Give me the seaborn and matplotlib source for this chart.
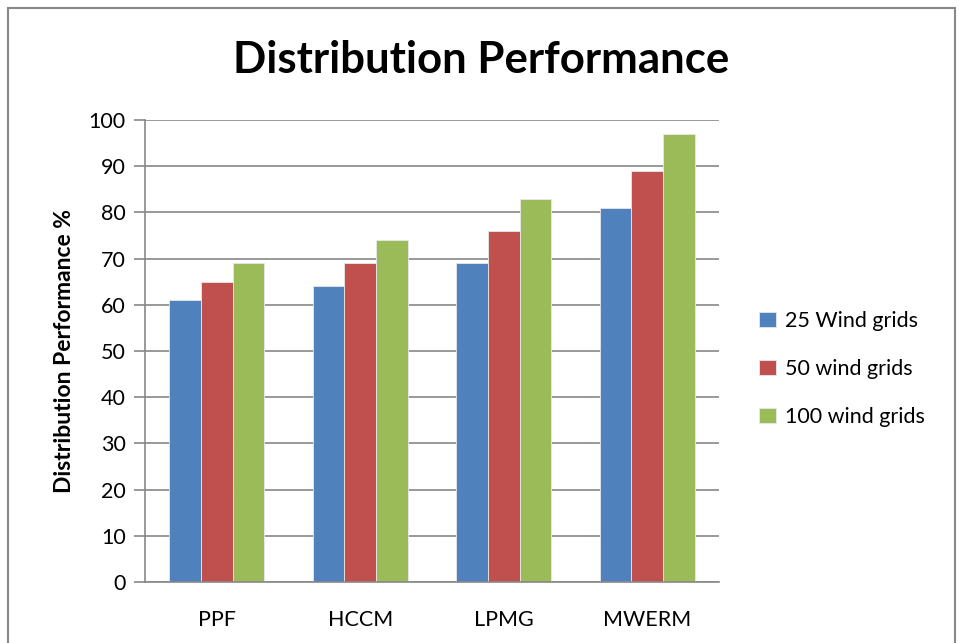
import matplotlib
matplotlib.use("Agg")
import matplotlib.pyplot as plt
import seaborn as sns
import pandas as pd
from matplotlib.patches import Rectangle

categories = ["PPF", "HCCM", "LPMG", "MWERM"]
series_names = ["25 Wind grids", "50 wind grids", "100 wind grids"]
s25 = [61, 64, 69, 81]
s50 = [65, 69, 76, 89]
s100 = [69, 74, 83, 97]
yticks = [0, 10, 20, 30, 40, 50, 60, 70, 80, 90, 100]
colors = ["#4F81BD", "#C0504D", "#9BBB59"]

rows = []
for name, vals in zip(series_names, [s25, s50, s100]):
    for c, v in zip(categories, vals):
        rows.append({"Method": c, "Series": name, "Value": v})
df = pd.DataFrame(rows)

sns.set_theme(style="white")
plt.rcParams["font.family"] = ["Lato", "DejaVu Sans"]
plt.rcParams["text.color"] = "black"
plt.rcParams["axes.labelcolor"] = "black"
plt.rcParams["xtick.color"] = "black"
plt.rcParams["ytick.color"] = "black"

fig = plt.figure(figsize=(9.62, 6.43), dpi=100)
ax = fig.add_axes([145/962, 1-582/643, (719-145)/962, (582-120)/643])

sns.barplot(data=df, x="Method", y="Value", hue="Series", palette=colors,
            order=categories, hue_order=series_names, width=0.66,
            saturation=1, ax=ax, legend=True, edgecolor="#e8e8e8", linewidth=0.6)

ax.set_ylim(0, 100)
ax.set_yticks(yticks)
ax.set_xlim(-0.5, len(categories) - 0.5)
ax.yaxis.grid(True, color="#888888", linewidth=1.2)
ax.set_axisbelow(True)
for s in ["top", "right"]:
    ax.spines[s].set_visible(False)
for s in ["left", "bottom"]:
    ax.spines[s].set_color("#888888")
    ax.spines[s].set_linewidth(1.2)

ax.set_xticks([x for x in range(len(categories))])
ax.set_xticklabels(categories, fontsize=15.5)
ax.set_xticks([-0.5, 0.5, 1.5, 2.5, 3.5], minor=True)
ax.tick_params(axis="x", which="major", length=0, pad=20, colors="black")
ax.tick_params(axis="x", which="minor", length=8, color="#888888", width=1.2, direction="out")
ax.tick_params(axis="y", length=8, color="#888888", labelcolor="black", width=1.2,
               direction="out", labelsize=15.5, pad=6)
ax.tick_params(axis="both", bottom=True, left=True)

ax.set_xlabel("")
ax.set_ylabel("Distribution Performance %", fontsize=16.5, fontweight="bold", labelpad=10)

leg = ax.legend(loc="center left", bbox_to_anchor=(740/962, 1-369/643),
                bbox_transform=fig.transFigure, frameon=False, fontsize=15.5,
                handlelength=0.75, handleheight=0.75, handletextpad=0.45, labelspacing=1.3)
for t in leg.get_texts():
    t.set_color("black")

fig.text(0.5, 1-60/643, "Distribution Performance", ha="center", va="center",
         fontsize=31.5, fontweight="bold", color="black")

border = Rectangle((8/962, -0.05), (955-8)/962, 1.05 - 8/643, transform=fig.transFigure,
                   fill=False, edgecolor="#888888", linewidth=1.5)
fig.patches.append(border)

fig.savefig("out.png", dpi=100)
